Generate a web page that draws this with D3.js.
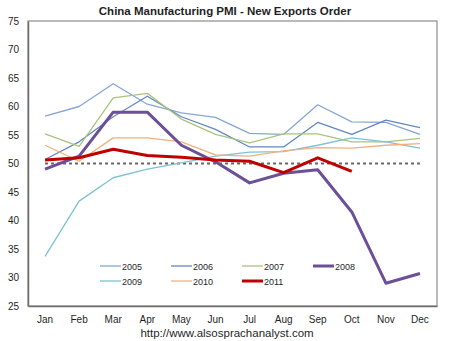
<!DOCTYPE html>
<html>
<head>
<meta charset="utf-8">
<script src="https://cdn.jsdelivr.net/npm/d3@7"></script>
<style>
  body { margin: 0; background: #fff; }
  text { font-family: "Liberation Sans", Arial, sans-serif; fill: #1f1f1f; }
</style>
</head>
<body>
<div class="graph"></div>
<script>
const months = ['Jan', 'Feb', 'Mar', 'Apr', 'May', 'Jun', 'Jul', 'Aug', 'Sep', 'Oct', 'Nov', 'Dec'];
const yTicks = [25, 30, 35, 40, 45, 50, 55, 60, 65, 70, 75];

const y2005 = [58.3, 60.0, 64.0, 60.4, 58.9, 58.1, 55.3, 55.1, 60.3, 57.3, 57.2, 55.1];
const y2006 = [50.7, 53.8, 58.2, 61.8, 58.2, 56.0, 52.9, 52.9, 57.2, 55.1, 57.6, 56.3];
const y2007 = [55.2, 53.0, 61.5, 62.3, 57.8, 55.1, 53.6, 55.2, 55.2, 53.8, 53.8, 54.4];
const y2008 = [49.0, 51.3, 59.0, 59.0, 53.2, 50.3, 46.6, 48.3, 48.9, 41.5, 29.0, 30.7];
const y2009 = [33.7, 43.4, 47.5, 49.0, 50.1, 51.3, 52.0, 52.1, 53.2, 54.5, 53.8, 52.7];
const y2010 = [53.2, 50.4, 54.5, 54.5, 53.8, 51.5, 51.3, 52.2, 52.8, 52.7, 53.2, 53.5];
const y2011 = [50.6, 51.0, 52.5, 51.4, 51.1, 50.6, 50.4, 48.4, 51.0, 48.6];
const threshold = [50, 50, 50, 50, 50, 50, 50, 50, 50, 50, 50, 50];

const series = [
  { name: '2005', values: y2005, color: '#86a6d6', width: 1.3 },
  { name: '2006', values: y2006, color: '#6487bf', width: 1.3 },
  { name: '2007', values: y2007, color: '#a9c47d', width: 1.3 },
  { name: '2008', values: y2008, color: '#6b4f97', width: 3 },
  { name: '2009', values: y2009, color: '#7dc2d2', width: 1.3 },
  { name: '2010', values: y2010, color: '#f2b07c', width: 1.3 },
  { name: '2011', values: y2011, color: '#c00000', width: 3 }
];

const width = 450, height = 341;
const margin = { top: 21, right: 13, bottom: 35, left: 28 };

const svg = d3.select('.graph').append('svg')
  .attr('width', width)
  .attr('height', height);

const x = d3.scaleBand()
  .domain(months)
  .range([margin.left, width - margin.right]);

const y = d3.scaleLinear()
  .domain([25, 75])
  .range([height - margin.bottom, margin.top]);

const cx = m => x(m) + x.bandwidth() / 2;

// title
svg.append('text')
  .attr('x', 225).attr('y', 15)
  .attr('text-anchor', 'middle')
  .style('font-size', '11.5px').style('font-weight', 'bold')
  .text('China Manufacturing PMI - New Exports Order');

// plot frame
svg.append('rect')
  .attr('x', margin.left).attr('y', margin.top)
  .attr('width', width - margin.left - margin.right)
  .attr('height', height - margin.top - margin.bottom)
  .attr('fill', 'none')
  .attr('stroke', '#8c8c8c')
  .attr('stroke-width', 1.2);

// y axis
const yAxis = svg.append('g')
  .attr('transform', `translate(${margin.left},0)`)
  .call(d3.axisLeft(y).tickValues(yTicks).tickSize(0).tickPadding(9));
yAxis.select('.domain').attr('stroke', '#6e6e6e').attr('stroke-width', 1.5);
yAxis.selectAll('text').style('font-size', '10px').attr('fill', '#1f1f1f')
  .style('font-family', '"Liberation Sans", Arial, sans-serif');

// x axis
const xAxis = svg.append('g')
  .attr('transform', `translate(0,${height - margin.bottom})`)
  .call(d3.axisBottom(x).tickSize(0).tickPadding(10));
xAxis.select('.domain').attr('stroke', '#6e6e6e').attr('stroke-width', 1.5);
xAxis.selectAll('text').style('font-size', '10px').attr('fill', '#1f1f1f')
  .style('font-family', '"Liberation Sans", Arial, sans-serif');

const line = d3.line()
  .x((d, i) => cx(months[i]))
  .y(d => y(d));

// 50 reference line
svg.append('path')
  .datum(threshold)
  .attr('fill', 'none')
  .attr('stroke', '#666')
  .attr('stroke-width', 2)
  .attr('stroke-dasharray', '3,3')
  .attr('d', line);

// thin lines first, then thick ones on top
const order = ['2005', '2006', '2007', '2009', '2010', '2008', '2011'];
order.forEach(n => {
  const s = series.find(d => d.name === n);
  svg.append('path')
    .datum(s.values)
    .attr('fill', 'none')
    .attr('stroke', s.color)
    .attr('stroke-width', s.width)
    .attr('stroke-linejoin', 'round')
    .attr('d', line);
});

// legend
const legend = svg.append('g');
series.forEach((s, i) => {
  const col = i % 4, row = Math.floor(i / 4);
  const lx = 100 + col * 71, ly = 266 + row * 15;
  legend.append('line')
    .attr('x1', lx).attr('x2', lx + 21)
    .attr('y1', ly).attr('y2', ly)
    .attr('stroke', s.color)
    .attr('stroke-width', s.width);
  legend.append('text')
    .attr('x', lx + 22).attr('y', ly + 3.5)
    .style('font-size', '9px')
    .text(s.name);
});

// source url
svg.append('text')
  .attr('x', 227).attr('y', 337)
  .attr('text-anchor', 'middle')
  .style('font-size', '11.5px')
  .text('http://www.alsosprachanalyst.com');
</script>
</body>
</html>
